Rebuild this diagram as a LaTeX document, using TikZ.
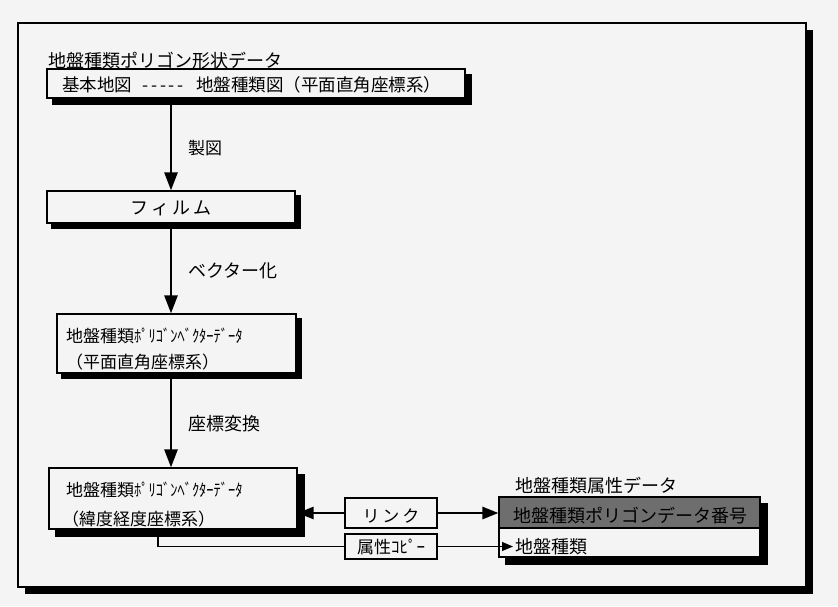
\documentclass[tikz,border=0pt]{standalone}
\usepackage{fontspec}
\setmainfont{Noto Sans CJK JP}
\usetikzlibrary{arrows.meta}
\pgfdeclarelayer{back}
\pgfdeclarelayer{shadowlayer}
\pgfsetlayers{back,shadowlayer,main}
\definecolor{bg}{RGB}{244,244,244}
\definecolor{shade}{RGB}{110,110,110}
\newcommand{\hk}[1]{\scalebox{0.85}[1]{#1}}
\newcommand{\boxshadow}[2]{\begin{pgfonlayer}{shadowlayer}\fill[black] ([shift={(#2,#2)}]#1.north west) rectangle ([shift={(#2,#2)}]#1.south east);\end{pgfonlayer}}
\tikzset{
  box/.style={draw, fill=bg, line width=1.2pt, inner sep=0pt},
  plainbox/.style={draw, fill=bg, line width=1.1pt, inner sep=0pt},
  txt/.style={inner sep=0pt, font=\fontsize{18}{20}\selectfont},
  midtxt/.style={inner sep=0pt, font=\fontsize{17}{19}\selectfont},
  flow/.style={line width=2.6pt, -{Triangle[length=18pt,width=13pt]}},
  link/.style={line width=2.6pt, -{Triangle[length=16pt,width=12pt]}},
  thin/.style={line width=1.1pt},
  thinarrow/.style={line width=1.1pt, -{Triangle[length=11pt,width=9pt]}}
}
\begin{document}
\begin{tikzpicture}[x=1pt,y=-1pt]
\useasboundingbox (0,0) rectangle (838,606);
\begin{pgfonlayer}{back}
\fill[bg] (0,0) rectangle (838,606);
% outer frame
\fill[black] (25,30) rectangle (813,594);
\draw[fill=bg, line width=1.2pt] (18,23) rectangle (806,587);
\end{pgfonlayer}

% title 1
\node[txt, anchor=west] (t1) at (48,61) {地盤種類ポリゴン形状データ};
\node[box, minimum width=418pt, minimum height=29pt] (b1) at (256,83.5) {};
\boxshadow{b1}{6}
\node[midtxt, anchor=west, font=\fontsize{17.5}{19}\selectfont] (b1t) at (62,85) {基本地図\hspace{8pt}\makebox[46pt]{\hfill-\hfill-\hfill-\hfill-\hfill-\hfill}\hspace{10pt}地盤種類図（平面直角座標系）};

\node[box, minimum width=248pt, minimum height=32pt] (b2) at (171,207) {};
\boxshadow{b2}{5}
\node[txt] (b2t) at (171,208) {フ\,ィ\,ル\,ム};

\node[box, minimum width=239pt, minimum height=59pt] (b3) at (176.5,343.5) {};
\boxshadow{b3}{5}
\node[midtxt, anchor=west] (b3a) at (66,336) {地盤種類\hk{ﾎﾟﾘｺﾞﾝﾍﾞｸﾀｰﾃﾞｰﾀ}};
\node[midtxt, anchor=west] (b3b) at (66,362) {（平面直角座標系）};

\node[box, minimum width=248pt, minimum height=61pt] (b4) at (173,498.5) {};
\boxshadow{b4}{7}
\node[midtxt, anchor=west] (b4a) at (66,490) {地盤種類\hk{ﾎﾟﾘｺﾞﾝﾍﾞｸﾀｰﾃﾞｰﾀ}};
\node[midtxt, anchor=west] (b4b) at (62,519) {（緯度経度座標系）};

% flow arrows
\draw[flow] (b1.south -| 171,0) -- (b2.north -| 171,0);
\draw[flow] (b2.south -| 171,0) -- (b3.north -| 171,0);
\draw[flow] (b3.south -| 171,0) -- (b4.north -| 171,0);
\node[midtxt, anchor=west] (l1) at (188,148) {製図};
\node[txt, anchor=west] (l2) at (188,271) {ベクター化};
\node[txt, anchor=west] (l3) at (188,424) {座標変換};

% attribute data
\node[txt, anchor=west] (t2) at (515,486) {地盤種類属性データ};
\node[plainbox, fill=shade, minimum width=261pt, minimum height=31pt] (a1) at (629.5,512.5) {};
\node[plainbox, minimum width=261pt, minimum height=29pt] (a2) at (629.5,542.5) {};
\begin{pgfonlayer}{shadowlayer}
\fill[black] ([shift={(7,7)}]a1.north west) rectangle ([shift={(7,7)}]a2.south east);
\end{pgfonlayer}
\node[txt, anchor=west] (a1t) at (513,516) {地盤種類ポリゴンデータ番号};
\node[txt, anchor=west] (a2t) at (515,547) {地盤種類};

% link and copy
\node[plainbox, minimum width=92pt, minimum height=30pt] (lk) at (391,513) {};
\node[midtxt] (lkt) at (391,516) {リ\,ン\,ク};
\node[plainbox, minimum width=92pt, minimum height=25pt] (cp) at (391,546.5) {};
\node[midtxt] (cpt) at (391,547) {属性ｺﾋﾟｰ};

\draw[link] (lk.west) -- (lk.west -| b4.east);
\draw[link] (lk.east) -- (lk.east -| a1.west);
\coordinate (c0) at (158,546.5);
\coordinate (c1) at (513,546.5);
\draw[thin] (b4.south -| c0) -- (c0) -- (cp.west);
\draw[thinarrow] (cp.east) -- (c1);
\end{tikzpicture}
\end{document}
